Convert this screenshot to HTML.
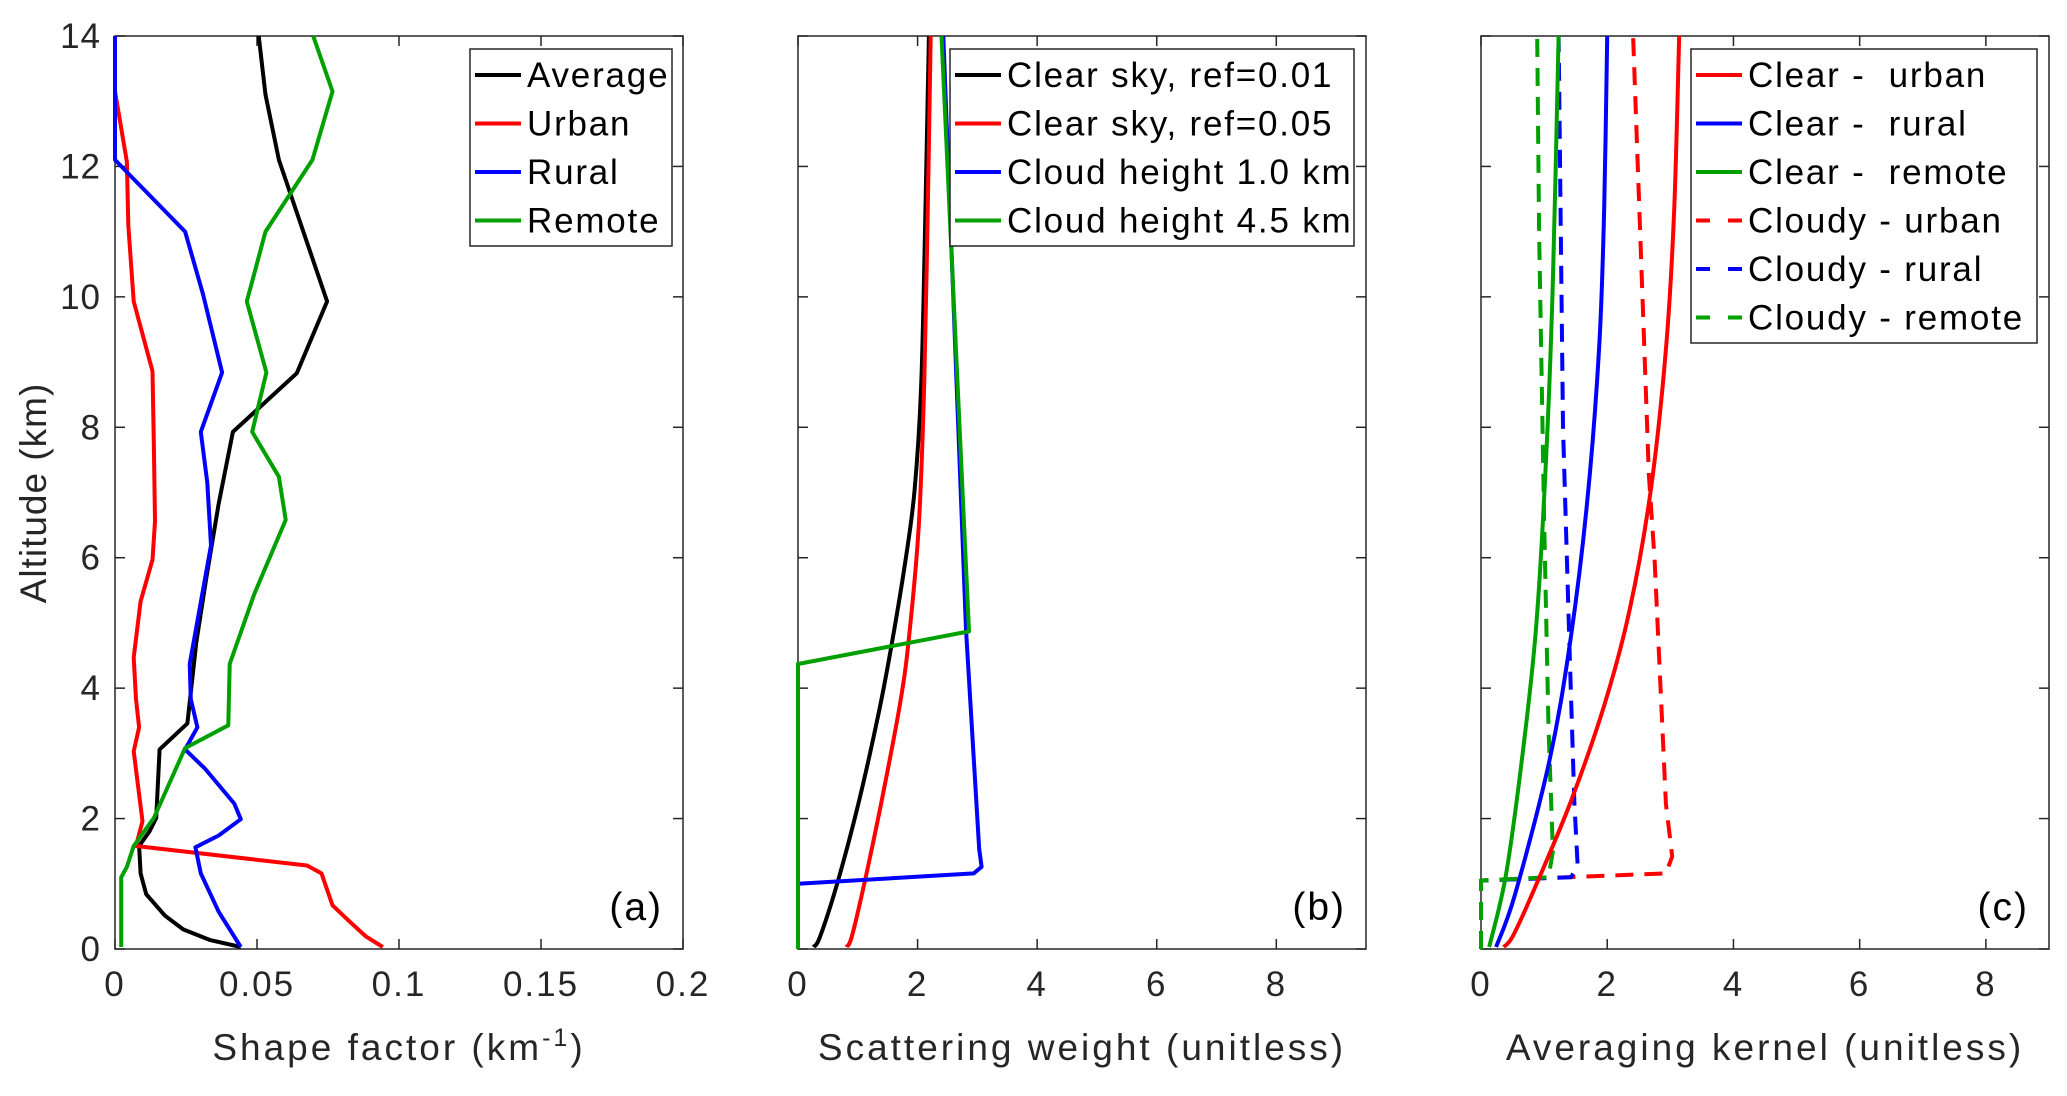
<!DOCTYPE html>
<html><head><meta charset="utf-8"><style>
html,body{margin:0;padding:0;background:#fff;}
svg{display:block;font-family:"Liberation Sans",Arial,sans-serif;}
</style></head><body>
<svg id="chart" width="2067" height="1096" viewBox="0 0 2067 1096"></svg>
<script>
// ---- Panel (a) data: altitude (km) and shape factor (km^-1)
const avgAlt=[14,13.1,12.1,11.5,9.93,8.83,7.93,6.83,5.65,4.69,3.46,3.06,2.01,1.8,1.58,1.16,0.84,0.51,0.3,0.14,0.03];
const avgVal=[.0506,.053,.0577,.0624,.0747,.064,.0415,.0365,.032,.0286,.0255,.0157,.0145,.0121,.0085,.009,.011,.0176,.024,.0333,.0443];
const urbAlt=[13.15,12.07,11.1,9.93,8.86,7.69,6.56,5.97,5.33,4.47,3.83,3.4,3.03,1.96,1.58,1.28,1.16,0.67,0.41,0.19,0.03];
const urbVal=[0,.0042,.0047,.0066,.0132,.0137,.0141,.0132,.009,.0066,.0074,.0085,.0066,.0097,.0074,.0676,.0727,.0766,.0829,.0884,.0943];
const rurAlt=[14,12.1,11.0,10.04,8.84,7.93,7.15,6.19,4.37,3.83,3.4,3.06,2.76,2.23,1.99,1.74,1.56,1.16,0.57,0.03];
const rurVal=[0,0,.0247,.031,.0377,.0302,.0325,.0338,.0263,.0267,.029,.0247,.0318,.042,.0443,.0365,.0283,.0302,.0365,.0443];
const remAlt=[14,13.15,12.1,11.0,9.93,8.84,7.93,7.24,6.58,5.44,4.37,3.43,3.08,2.01,1.58,1.26,1.1,0.03];
const remVal=[.0698,.0766,.0695,.053,.0464,.0533,.0483,.0577,.0601,.049,.0404,.0399,.0247,.0137,.0066,.0042,.0022,.0022];
// ---- Panel (b) data: scattering weight
const c01Alt=[0.03,0.19,1.05,2.23,3.62,4.69,5.97,7.04,8.65,11.3,14];
const c01Val=[0.26,0.37,0.67,1.01,1.35,1.57,1.8,1.95,2.06,2.13,2.19];
const c05Alt=[0.03,0.19,1.05,2.23,3.83,4.9,6.5,8.65,11.3,14];
const c05Val=[0.81,0.9,1.12,1.39,1.72,1.87,2.02,2.11,2.17,2.22];
const cl1Alt=[0,1.0,1.16,1.26,1.53,4.9,14];
const cl1Val=[0,0,2.94,3.07,3.03,2.81,2.43];
const cl45Alt=[0,4.37,4.87,14];
const cl45Val=[0,0,2.86,2.4];
// ---- Panel (c) data: averaging kernel
const cuAlt=[0.03,0.19,0.84,2.23,3.73,5.22,7.04,9.19,11.3,14];
const cuVal=[0.36,0.5,0.81,1.41,1.95,2.36,2.69,2.93,3.06,3.14];
const crAlt=[0.03,0.84,2.87,4.69,6.83,9.19,11.3,14];
const crVal=[0.24,0.54,1.08,1.41,1.68,1.87,1.95,2.0];
const cmAlt=[0.03,1.16,3.08,5.01,7.69,10.26,14];
const cmVal=[0.13,0.4,0.67,0.88,1.04,1.14,1.23];
const duAlt=[0,1.05,1.16,1.42,2.23,5.97,7.26,14];
const duVal=[0,0,2.93,3.03,2.93,2.75,2.66,2.41];
const drAlt=[0,1.05,1.1,1.3,2.23,4.37,8.0,14];
const drVal=[0,0,1.43,1.53,1.48,1.41,1.3,1.23];
const dmAlt=[0,1.05,1.1,1.5,3.4,6.6,11,14];
const dmVal=[0,0,1.07,1.14,1.07,1.0,0.92,0.89];
// ticks
const yTicks=[0,2,4,6,8,10,12,14];
const aTicks=[0,0.05,0.1,0.15,0.2];
const aTickLabels=["0","0.05","0.1","0.15","0.2"];
const bTicks=[0,2,4,6,8];
const cTicks=[0,2,4,6,8];

const NS="http://www.w3.org/2000/svg";
const svg=document.getElementById('chart');
function mk(tag,attrs,parent){const e=document.createElementNS(NS,tag);for(const k in attrs)e.setAttribute(k,attrs[k]);(parent||svg).appendChild(e);return e;}
const TOP=36,BOT=949;
function yScale(v){return BOT-(v/14)*(BOT-TOP);}
function panel(name,L,R,xmax,xt,xtl,showY,xlabel,tag){
  const g=mk('g',{});
  
  
  const xs=v=>L+(v/xmax)*(R-L);
  const box=mk('rect',{x:L,y:TOP,width:R-L,height:BOT-TOP,fill:'#fff',stroke:'#262626','stroke-width':1.5},g);
  
  
  yTicks.forEach(t=>{
    const y=yScale(t);
    mk('line',{x1:L,x2:L+10,y1:y,y2:y,stroke:'#262626','stroke-width':1.5},g);
    mk('line',{x1:R,x2:R-10,y1:y,y2:y,stroke:'#262626','stroke-width':1.5},g);
    if(showY){const tx=mk('text',{x:L-14,y:y+12,'font-size':35,'text-anchor':'end',fill:'#262626','letter-spacing':1},g);tx.textContent=t;
      
      }
  });
  xt.forEach((t,i)=>{
    const x=xs(t);
    mk('line',{x1:x,x2:x,y1:BOT,y2:BOT-10,stroke:'#262626','stroke-width':1.5},g);
    mk('line',{x1:x,x2:x,y1:TOP,y2:TOP+10,stroke:'#262626','stroke-width':1.5},g);
    const tx=mk('text',{x:x,y:996,'font-size':35,'text-anchor':'middle',fill:'#262626','letter-spacing':2},g);tx.textContent=xtl[i];
    
    
  });
  const xl=mk('text',{x:(L+R)/2,y:1060,'font-size':37,'text-anchor':'middle',fill:'#262626','letter-spacing':3},g);
  xl.innerHTML=xlabel;
  
  
  const tg=mk('text',{x:R-20,y:920,'font-size':39,'text-anchor':'end',fill:'#000','letter-spacing':2},g);tg.textContent=tag;
  
  
  return {g,xs};
}
function series(p,vals,alts,color,name,dash,smooth){
  const pts=vals.map((v,i)=>[p.xs(v),yScale(alts[i])]);
  let d='M'+pts[0][0].toFixed(1)+','+pts[0][1].toFixed(1);
  for(let i=1;i<pts.length;i++){
    if(smooth){
      const p0=pts[Math.max(0,i-2)],p1=pts[i-1],p2=pts[i],p3=pts[Math.min(pts.length-1,i+1)];
      const c1=[p1[0]+(p2[0]-p0[0])/6,p1[1]+(p2[1]-p0[1])/6];
      const c2=[p2[0]-(p3[0]-p1[0])/6,p2[1]-(p3[1]-p1[1])/6];
      d+=' C'+c1[0].toFixed(1)+','+c1[1].toFixed(1)+' '+c2[0].toFixed(1)+','+c2[1].toFixed(1)+' '+p2[0].toFixed(1)+','+p2[1].toFixed(1);
    } else d+=' L'+pts[i][0].toFixed(1)+','+pts[i][1].toFixed(1);
  }
  const a={d:d,fill:'none',stroke:color,'stroke-width':4,'stroke-linejoin':'round'};
  if(dash)a['stroke-dasharray']='18 11';
  const e=mk('path',a,p.g);
  
  
}
function legend(p,x,y,w,entries){
  const lg=mk('g',{},p.g);
  
  
  mk('rect',{x:x,y:y,width:w,height:entries.length*48.5+3,fill:'#fff',stroke:'#262626','stroke-width':1.5},lg);
  entries.forEach((en,i)=>{
    const cy=y+26+i*48.5;
    const it=mk('g',{},lg);
    
    
    const la={x1:x+5,x2:x+51,y1:cy,y2:cy,stroke:en[1],'stroke-width':4};
    if(en[2])la['stroke-dasharray']='14 18';
    mk('line',la,it);
    const t=mk('text',{x:x+57,y:cy+12,'font-size':35,fill:'#000','letter-spacing':1.8},it);t.textContent=en[0];
  });
}
const pa=panel('panel-a-shape-factor',115,683,0.2,aTicks,aTickLabels,true,'Shape factor (km<tspan dy="-14" font-size="25">-1</tspan><tspan dy="14">)</tspan>','(a)');
series(pa,avgVal,avgAlt,'#000','line-average');
series(pa,urbVal,urbAlt,'#ff0000','line-urban');
series(pa,rurVal,rurAlt,'#0000ff','line-rural');
series(pa,remVal,remAlt,'#00a000','line-remote');
legend(pa,470,49,202,[['Average','#000'],['Urban','#ff0000'],['Rural','#0000ff'],['Remote','#00a000']]);
const yl=mk('text',{x:0,y:0,'font-size':37,'text-anchor':'middle',fill:'#262626','letter-spacing':1,transform:'translate(46,493) rotate(-90)'});
yl.textContent='Altitude (km)';



const pb=panel('panel-b-scattering-weight',798,1366,9.5,bTicks,bTicks.map(String),false,'Scattering weight (unitless)','(b)');
series(pb,c01Val,c01Alt,'#000','line-clear-ref001',false,true);
series(pb,c05Val,c05Alt,'#ff0000','line-clear-ref005',false,true);
series(pb,cl1Val,cl1Alt,'#0000ff','line-cloud-1km');
series(pb,cl45Val,cl45Alt,'#00a000','line-cloud-4-5km');
legend(pb,950,49,404,[['Clear sky, ref=0.01','#000'],['Clear sky, ref=0.05','#ff0000'],['Cloud height 1.0 km','#0000ff'],['Cloud height 4.5 km','#00a000']]);

const pc=panel('panel-c-averaging-kernel',1481,2049,9.0,cTicks,cTicks.map(String),false,'Averaging kernel (unitless)','(c)');
series(pc,duVal,duAlt,'#ff0000','line-cloudy-urban',true);
series(pc,drVal,drAlt,'#0000ff','line-cloudy-rural',true);
series(pc,dmVal,dmAlt,'#00a000','line-cloudy-remote',true);
series(pc,cuVal,cuAlt,'#ff0000','line-clear-urban',false,true);
series(pc,crVal,crAlt,'#0000ff','line-clear-rural',false,true);
series(pc,cmVal,cmAlt,'#00a000','line-clear-remote',false,true);
legend(pc,1691,49,346,[['Clear -\u00a0 urban','#ff0000'],['Clear -\u00a0 rural','#0000ff'],['Clear -\u00a0 remote','#00a000'],['Cloudy - urban','#ff0000',true],['Cloudy - rural','#0000ff',true],['Cloudy - remote','#00a000',true]]);
</script>
</body></html>
